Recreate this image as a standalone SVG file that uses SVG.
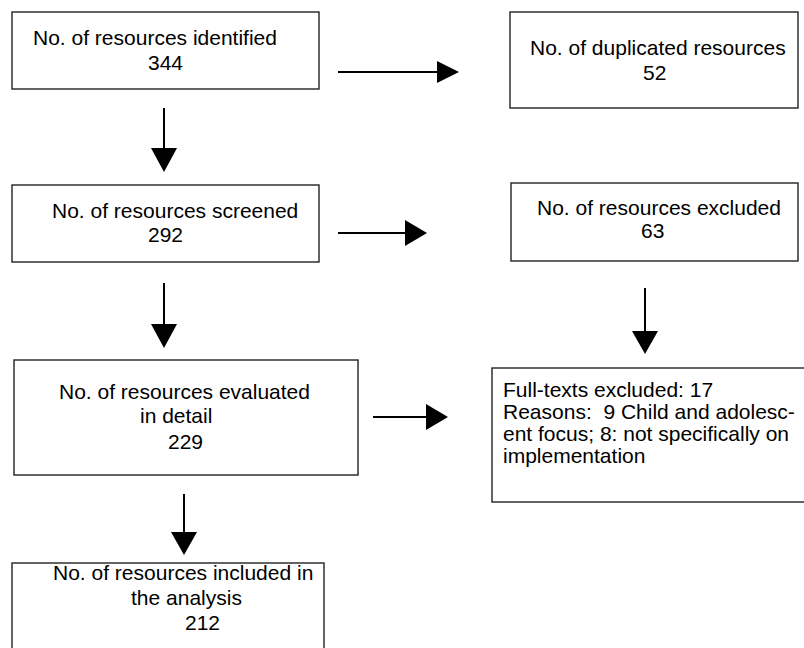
<svg xmlns="http://www.w3.org/2000/svg" width="804" height="648" viewBox="0 0 804 648">
<style>
.box{fill:#fff;stroke:#222;stroke-width:1.4}
.t{font-family:"Liberation Sans",Arial,sans-serif;font-size:21px;fill:#000}
.ln{stroke:#000;stroke-width:2;fill:none}
.hd{fill:#000}
</style>
<rect width="804" height="648" fill="#fff"/>
<g id="connectors">
<line class="ln" x1="338" y1="72" x2="438" y2="72"/><polygon class="hd" points="437,61 459,72 437,83"/>
<line class="ln" x1="164" y1="108" x2="164" y2="149"/><polygon class="hd" points="151,148 177,148 164,172"/>
<line class="ln" x1="338" y1="233" x2="406" y2="233"/><polygon class="hd" points="405,220 427,233 405,246"/>
<line class="ln" x1="164" y1="283" x2="164" y2="325"/><polygon class="hd" points="151,324 177,324 164,348"/>
<line class="ln" x1="645" y1="288" x2="645" y2="332"/><polygon class="hd" points="632,331 658,331 645,354"/>
<line class="ln" x1="373" y1="417" x2="427" y2="417"/><polygon class="hd" points="426,404 448,417 426,430"/>
<line class="ln" x1="184" y1="494" x2="184" y2="533"/><polygon class="hd" points="171,532 197,532 184,555"/>
</g>
<g id="identified">
<rect class="box" x="12" y="12" width="307" height="77"/>
<text class="t" x="33" y="45">No. of resources identified</text>
<text class="t" x="148" y="70">344</text>
</g>
<g id="duplicated">
<rect class="box" x="510" y="12" width="288" height="96"/>
<text class="t" x="530" y="55">No. of duplicated resources</text>
<text class="t" x="643" y="80">52</text>
</g>
<g id="screened">
<rect class="box" x="12" y="185" width="307" height="77"/>
<text class="t" x="52" y="218">No. of resources screened</text>
<text class="t" x="148" y="242">292</text>
</g>
<g id="excluded">
<rect class="box" x="511" y="183" width="287" height="78"/>
<text class="t" x="537" y="215">No. of resources excluded</text>
<text class="t" x="641" y="238">63</text>
</g>
<g id="evaluated">
<rect class="box" x="14" y="360" width="344" height="115"/>
<text class="t" x="59" y="399">No. of resources evaluated</text>
<text class="t" x="140" y="423">in detail</text>
<text class="t" x="168" y="449">229</text>
</g>
<g id="fulltexts">
<rect class="box" x="492" y="368" width="314" height="134"/>
<text class="t" x="503" y="397">Full-texts excluded: 17</text>
<text class="t" x="503" y="419" xml:space="preserve">Reasons:  9 Child and adolesc-</text>
<text class="t" x="503" y="441">ent focus; 8: not specifically on</text>
<text class="t" x="503" y="463">implementation</text>
</g>
<g id="included">
<rect class="box" x="12" y="563" width="312" height="90"/>
<text class="t" x="53" y="580">No. of resources included in</text>
<text class="t" x="131" y="605">the analysis</text>
<text class="t" x="185" y="630">212</text>
</g>
</svg>
